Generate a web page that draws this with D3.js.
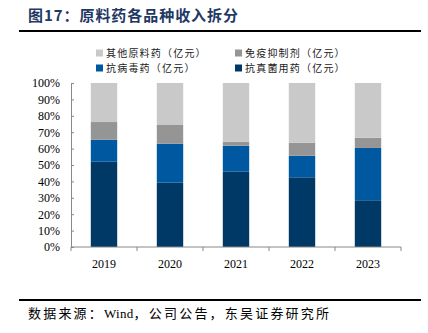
<!DOCTYPE html>
<html>
<head>
<meta charset="utf-8">
<script src="https://cdn.jsdelivr.net/npm/d3@7"></script>
<style>
  body { margin: 0; background: #fff; }
  svg { display: block; }
</style>
</head>
<body>
<svg id="chart" width="428" height="333"></svg>
<script>
// years along the x axis
const years = ["2019", "2020", "2021", "2022", "2023"];
// share of revenue by product line (%), bottom to top of each stack
const antifungal = [52.0, 39.2, 45.9, 42.5, 28.5];   // 抗真菌用药
const antiviral  = [13.4, 23.8, 15.9, 13.2, 31.9];   // 抗病毒药
const immuno     = [10.8, 11.4, 2.4, 7.9, 6.2];      // 免疫抑制剂
const others     = [23.8, 25.6, 35.8, 36.4, 33.4];   // 其他原料药
const seriesNames = ["抗真菌用药（亿元）", "抗病毒药（亿元）", "免疫抑制剂（亿元）", "其他原料药（亿元）"];
const seriesColors = ["#003866", "#0058A0", "#959595", "#C9C9C9"];
const yTicks = [0, 10, 20, 30, 40, 50, 60, 70, 80, 90, 100];

const cjk = "'Noto Sans CJK SC', sans-serif";
const serif = "'Liberation Serif', 'Times New Roman', serif";

const svg = d3.select("#chart");

// --- header ---
svg.append("text")
  .attr("x", 28).attr("y", 21)
  .attr("font-family", cjk).attr("font-weight", "bold")
  .attr("font-size", 15).attr("fill", "#1F3864")
  .attr("textLength", 210).attr("lengthAdjust", "spacing")
  .text("图17：原料药各品种收入拆分");
svg.append("line")
  .attr("x1", 19).attr("x2", 421).attr("y1", 31).attr("y2", 31)
  .attr("stroke", "#000").attr("stroke-width", 2);

// --- plot area ---
const margin = { left: 71, right: 27, top: 83, bottom: 86 };
const width = 428 - margin.left - margin.right;
const height = 333 - margin.top - margin.bottom;
const g = svg.append("g").attr("transform", `translate(${margin.left},${margin.top})`);

const x = d3.scaleBand().domain(years).range([0, width]).paddingInner(0.6).paddingOuter(0.3);
const y = d3.scaleLinear().domain([0, 100]).range([height, 0]);

const table = years.map((yr, i) => ({
  year: yr, s0: antifungal[i], s1: antiviral[i], s2: immuno[i], s3: others[i]
}));
const layers = d3.stack().keys(["s0", "s1", "s2", "s3"])(table);

g.selectAll("g.layer")
  .data(layers)
  .join("g")
  .attr("class", "layer")
  .attr("fill", (d, i) => seriesColors[i])
  .selectAll("rect")
  .data(d => d)
  .join("rect")
  .attr("x", d => x(d.data.year))
  .attr("width", x.bandwidth())
  .attr("y", d => y(d[1]))
  .attr("height", d => y(d[0]) - y(d[1]));

// y axis
const yAxis = g.append("g")
  .call(d3.axisLeft(y).tickValues(yTicks).tickFormat(d => d + "%").tickSize(3).tickSizeOuter(0));
yAxis.select(".domain").attr("stroke", "#888");
yAxis.selectAll(".tick line").attr("stroke", "#888").attr("x1", 0).attr("x2", 3);
yAxis.selectAll(".tick text")
  .attr("x", -11)
  .attr("font-family", serif).attr("font-size", 12).attr("fill", "#000");

// x axis with ticks between categories
const xAxis = g.append("g").attr("transform", `translate(0,${height})`);
xAxis.append("line").attr("x1", 0).attr("x2", width).attr("stroke", "#888");
const slot = width / years.length;
xAxis.selectAll("line.sep")
  .data(d3.range(years.length + 1))
  .join("line")
  .attr("class", "sep")
  .attr("x1", i => i * slot).attr("x2", i => i * slot)
  .attr("y1", 0).attr("y2", 4)
  .attr("stroke", "#888");
xAxis.selectAll("text")
  .data(years)
  .join("text")
  .attr("x", d => x(d) + x.bandwidth() / 2)
  .attr("y", 21)
  .attr("text-anchor", "middle")
  .attr("font-family", serif).attr("font-size", 12)
  .text(d => d);

// --- legend (two rows, two columns) ---
const legendOrder = [3, 2, 1, 0];
const legend = svg.append("g");
legendOrder.forEach((si, k) => {
  const lx = k % 2 === 0 ? 96 : 235;
  const ly = k < 2 ? 53 : 68;
  legend.append("rect")
    .attr("x", lx).attr("y", ly - 3.5).attr("width", 7).attr("height", 7)
    .attr("fill", seriesColors[si]);
  legend.append("text")
    .attr("x", lx + 10).attr("y", ly + 3.5)
    .attr("font-family", cjk).attr("font-size", 10)
    .attr("letter-spacing", 1.2).attr("fill", "#222")
    .text(seriesNames[si]);
});

// --- footer ---
svg.append("line")
  .attr("x1", 19).attr("x2", 421).attr("y1", 300).attr("y2", 300)
  .attr("stroke", "#000").attr("stroke-width", 2);
const src = svg.append("text")
  .attr("x", 28).attr("y", 318)
  .attr("font-family", cjk).attr("font-size", 13).attr("fill", "#000");
src.append("tspan").attr("letter-spacing", 2.2).text("数据来源：");
src.append("tspan").attr("font-family", serif).attr("letter-spacing", 0.3).text("Wind");
src.append("tspan").attr("letter-spacing", 2.2).text("，公司公告，东吴证券研究所");
</script>
</body>
</html>
